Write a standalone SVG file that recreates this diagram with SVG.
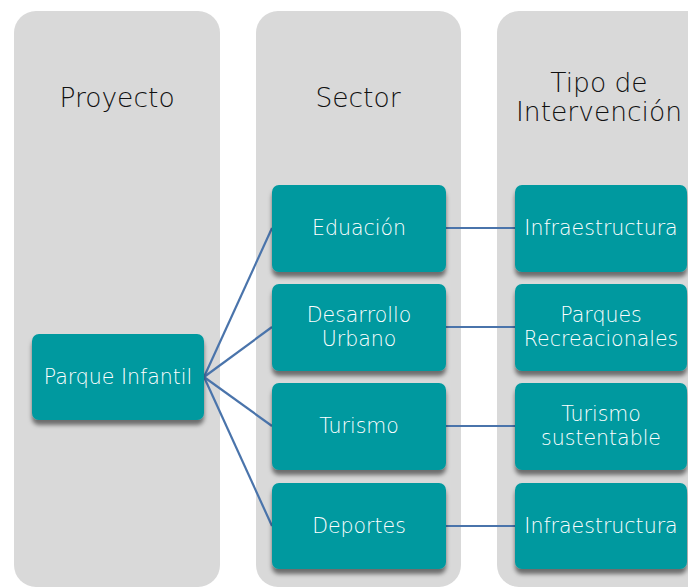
<svg xmlns="http://www.w3.org/2000/svg" width="688" height="587" viewBox="0 0 688 587">
<defs>
<style>
.col{fill:#d9d9d9;}
.node{fill:#00999f;}
.hdr{font-family:"DejaVu Sans","Liberation Sans",Arial,sans-serif;font-weight:200;font-size:26.5px;fill:#111111;text-anchor:middle;}
.lbl{font-family:"DejaVu Sans","Liberation Sans",Arial,sans-serif;font-weight:200;font-size:20.5px;fill:#ffffff;text-anchor:middle;}
.conn{stroke:#4a74ab;stroke-width:2.2;fill:none;}
</style>
<filter id="sh" x="-10%" y="-10%" width="120%" height="130%">
<feDropShadow dx="0" dy="5" stdDeviation="2" flood-color="#000" flood-opacity="0.5"/>
</filter>
</defs>
<rect width="688" height="587" fill="#ffffff"/>
<g id="col-proyecto">
<rect class="col" x="14" y="11" width="206" height="576" rx="22"/>
<text class="hdr" x="117" y="107">Proyecto</text>
</g>
<g id="col-sector">
<rect class="col" x="256" y="11" width="205" height="576" rx="22"/>
<text class="hdr" x="358" y="107">Sector</text>
</g>
<g id="col-tipo">
<rect class="col" x="497" y="11" width="215" height="576" rx="22"/>
<text class="hdr" x="599" y="92">Tipo de</text>
<text class="hdr" x="599" y="121">Intervención</text>
</g>
<g id="connectors">
<line class="conn" x1="204" y1="377" x2="272" y2="228"/>
<line class="conn" x1="204" y1="377" x2="272" y2="327"/>
<line class="conn" x1="204" y1="377" x2="272" y2="426"/>
<line class="conn" x1="204" y1="377" x2="272" y2="526"/>
<line class="conn" x1="446" y1="228" x2="515" y2="228"/>
<line class="conn" x1="446" y1="327" x2="515" y2="327"/>
<line class="conn" x1="446" y1="426" x2="515" y2="426"/>
<line class="conn" x1="446" y1="526" x2="515" y2="526"/>
</g>
<g id="parque">
<rect class="node" filter="url(#sh)" x="32" y="334" width="172" height="86" rx="7"/>
<text class="lbl" x="118" y="384">Parque Infantil</text>
</g>
<g id="educacion">
<rect class="node" filter="url(#sh)" x="272" y="185" width="174" height="87" rx="7"/>
<text class="lbl" x="359" y="235">Eduación</text>
</g>
<g id="desarrollo">
<rect class="node" filter="url(#sh)" x="272" y="284" width="174" height="87" rx="7"/>
<text class="lbl" x="359" y="322">Desarrollo</text>
<text class="lbl" x="359" y="346">Urbano</text>
</g>
<g id="turismo">
<rect class="node" filter="url(#sh)" x="272" y="383" width="174" height="87" rx="7"/>
<text class="lbl" x="359" y="433">Turismo</text>
</g>
<g id="deportes">
<rect class="node" filter="url(#sh)" x="272" y="483" width="174" height="86" rx="7"/>
<text class="lbl" x="359" y="533">Deportes</text>
</g>
<g id="infra1">
<rect class="node" filter="url(#sh)" x="515" y="185" width="172" height="87" rx="7"/>
<text class="lbl" x="601" y="235">Infraestructura</text>
</g>
<g id="parques">
<rect class="node" filter="url(#sh)" x="515" y="284" width="172" height="87" rx="7"/>
<text class="lbl" x="601" y="322">Parques</text>
<text class="lbl" x="601" y="346">Recreacionales</text>
</g>
<g id="turismo-sust">
<rect class="node" filter="url(#sh)" x="515" y="383" width="172" height="87" rx="7"/>
<text class="lbl" x="601" y="421">Turismo</text>
<text class="lbl" x="601" y="445">sustentable</text>
</g>
<g id="infra2">
<rect class="node" filter="url(#sh)" x="515" y="483" width="172" height="86" rx="7"/>
<text class="lbl" x="601" y="533">Infraestructura</text>
</g>
</svg>
